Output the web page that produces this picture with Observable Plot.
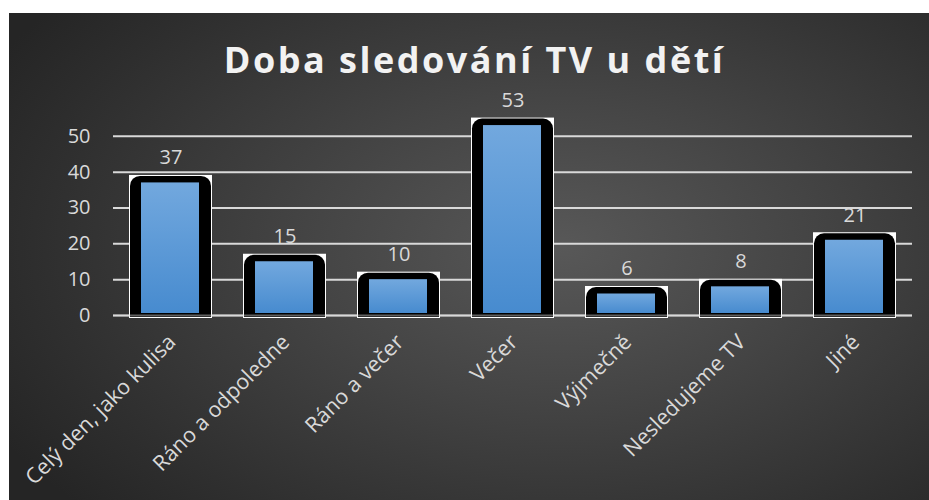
<!DOCTYPE html>
<html>
<head>
<meta charset="utf-8">
<script src="https://cdn.jsdelivr.net/npm/d3@7"></script>
<script src="https://cdn.jsdelivr.net/npm/@observablehq/plot@0.6"></script>
<style>
  html, body { margin: 0; padding: 0; background: #ffffff; }
  #wrap { position: relative; width: 929px; height: 500px; overflow: hidden; font-family: "Open Sans", sans-serif; }
  #bg { position: absolute; left: 9px; top: 13px; width: 920px; height: 487px;
        background: radial-gradient(ellipse 70% 80% at 60% 48%, #585858 0%, #444444 40%, #2f2f2f 80%, #252525 100%); }
  #title { position: absolute; left: 0; top: 42px; width: 949px; text-align: center;
           font-family: "Open Sans", sans-serif; font-weight: 700; font-size: 36px; letter-spacing: 2.5px;
           color: #f2f2f2; line-height: 1; margin: 0; }
  #chart { position: absolute; left: 0; top: 0; }
</style>
</head>
<body>
<div id="wrap">
  <div id="bg"></div>
  <div id="title">Doba sledování TV u dětí</div>
  <div id="chart"></div>
</div>
<script>
const categories = ["Celý den, jako kulisa", "Ráno a odpoledne", "Ráno a večer", "Večer", "Výjmečně", "Nesledujeme TV", "Jiné"];
const values = [37, 15, 10, 53, 6, 8, 21];
const yTicks = [0, 10, 20, 30, 40, 50];

const data = categories.map((c, i) => ({cat: c, v: values[i]}));

const defs = () => {
  const svg = d3.create("svg:defs");
  const g = svg.append("linearGradient").attr("id", "blueGrad")
    .attr("x1", 0).attr("y1", 0).attr("x2", 0).attr("y2", 1);
  g.append("stop").attr("offset", "0%").attr("stop-color", "#72a8de");
  g.append("stop").attr("offset", "100%").attr("stop-color", "#478bcf");
  return svg.node();
};

const chart = Plot.plot({
  width: 929,
  height: 500,
  marginLeft: 113,
  marginRight: 17,
  marginTop: 100,
  marginBottom: 185,
  style: {background: "transparent", color: "#d9d9d9", fontFamily: "Open Sans, sans-serif"},
  x: {domain: categories, paddingInner: 0.27, paddingOuter: 0.135, axis: null, label: null},
  y: {domain: [0, 60], axis: null, label: null},
  marks: [
    defs,
    Plot.gridY(yTicks, {stroke: "#d9d9d9", strokeOpacity: 1, strokeWidth: 2}),
    Plot.axisY(yTicks, {tickSize: 0, tickPadding: 23, fontSize: 20, fill: "#d9d9d9", label: null}),
    // white frame behind
    Plot.barY(data, {x: "cat", y: "v", fill: "#ffffff", insetTop: -7.5, insetBottom: -3}),
    // black rounded outline
    Plot.barY(data, {x: "cat", y: "v", fill: "#000000", insetTop: -6.5, insetLeft: 1, insetRight: 1, insetBottom: -2, rx: 10}),
    Plot.barY(data, {x: "cat", y: "v", fill: "#000000", insetTop: 4, insetLeft: 1, insetRight: 1, insetBottom: -2}),
    // blue inner
    Plot.barY(data, {x: "cat", y: "v", fill: "url(#blueGrad)", insetLeft: 12, insetRight: 13, insetBottom: 2}),
    Plot.ruleY([0], {stroke: "#d9d9d9", strokeOpacity: 0.45, strokeWidth: 2}),
    // value labels
    Plot.text(data, {x: "cat", y: "v", text: d => String(d.v), dy: -25, fontSize: 20, fill: "#d9d9d9"}),
    // category labels
    Plot.text(data, {x: "cat", frameAnchor: "bottom", text: "cat", rotate: -45, textAnchor: "end", lineAnchor: "middle", dy: 23, dx: 1, fontSize: 21.5, fill: "#d9d9d9"})
  ]
});
document.getElementById("chart").appendChild(chart);
</script>
</body>
</html>
